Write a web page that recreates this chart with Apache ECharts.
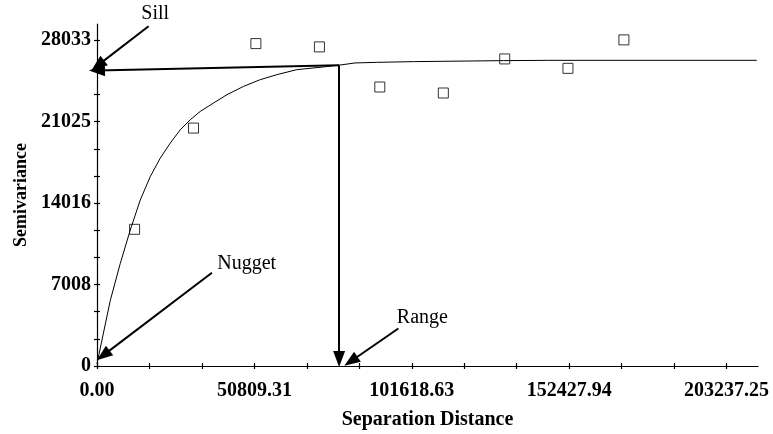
<!DOCTYPE html>
<html>
<head>
<meta charset="utf-8">
<script src="https://cdn.jsdelivr.net/npm/echarts@6/dist/echarts.min.js"></script>
<style>
  html, body { margin: 0; padding: 0; background: #fff; }
  #chart { width: 773px; height: 434px; }
</style>
</head>
<body>
<div id="chart"></div>
<script>
// axis ticks as printed on the plot
const xTicks = [0, 50809.31, 101618.63, 152427.94, 203237.25];
const yTicks = [0, 7008, 14016, 21025, 28033];
const xMax = 213399;
const yMax = 29435;

// experimental semivariance (open squares)
const lagDist = [12130, 31163, 51293, 71811, 91296, 111812, 131623, 152042, 170106];
const lagGamma = [11765, 20477, 27748, 27464, 24014, 23496, 26429, 25618, 28068];

// fitted model
const modelDist = [0, 4291, 7517, 10743, 13968, 17194, 20420, 23646, 26872, 30099, 33325, 37616,
    41938, 47293, 52679, 58068, 64520, 73101, 78165, 83327, 90328, 102135, 131170, 145687, 213000];
const modelGamma = [200, 5641, 8833, 11705, 14293, 16302, 17889, 19183, 20330, 21193, 21909, 22633,
    23349, 24065, 24643, 25074, 25506, 25739, 25894, 26083, 26135, 26196, 26282, 26308, 26308];

// annotation arrows [from, to] in data units
const arrows = [
    [[16646, 29240], [258, 25877]],     // Sill label
    [[78165, 25894], [0, 25440]],       // sill level
    [[78165, 25894], [78165, 604]],     // range drop
    [[97296, 3226], [81973, 405]],      // Range label
    [[37099, 8022], [2000, 914]]        // Nugget label
];
const notes = [
    ['Sill', 18808, 30300],
    ['Nugget', 48325, 8815],
    ['Range', 105039, 4175]
];

// major ticks with two minor ticks between
function withMinor(ticks) {
    let out = [];
    for (let i = 0; i < ticks.length; i++) {
        out.push(ticks[i]);
        if (i < ticks.length - 1) {
            const step = (ticks[i + 1] - ticks[i]) / 3;
            out.push(ticks[i] + step, ticks[i] + 2 * step);
        }
    }
    return out;
}

const font = 'Liberation Serif';
const chart = echarts.init(document.getElementById('chart'));

function makeX(inside) {
    return {
        type: 'value', min: 0, max: xMax, position: 'bottom',
        name: inside ? '' : 'Separation Distance',
        nameLocation: 'middle', nameGap: 44,
        nameTextStyle: { fontFamily: font, fontWeight: 'bold', fontSize: 20, color: '#000' },
        axisLine: { show: !inside, onZero: false, lineStyle: { color: '#000', width: 1.2 } },
        axisTick: { show: true, inside: inside, length: 3, customValues: withMinor(xTicks),
            lineStyle: { color: '#000', width: 1.2 } },
        axisLabel: { show: !inside, customValues: xTicks, margin: 15,
            fontFamily: font, fontWeight: 'bold', fontSize: 20, color: '#000',
            formatter: v => v.toFixed(2) },
        splitLine: { show: false }
    };
}

function makeY(inside) {
    return {
        type: 'value', min: 0, max: yMax, position: 'left',
        name: inside ? '' : 'Semivariance',
        nameLocation: 'middle', nameGap: 67,
        nameTextStyle: { fontFamily: font, fontWeight: 'bold', fontSize: 18, color: '#000' },
        axisLine: { show: !inside, onZero: false, lineStyle: { color: '#000', width: 1.2 } },
        axisTick: { show: true, inside: inside, length: 3, customValues: withMinor(yTicks),
            lineStyle: { color: '#000', width: 1.2 } },
        axisLabel: { show: !inside, customValues: yTicks, margin: 6,
            fontFamily: font, fontWeight: 'bold', fontSize: 20, color: '#000',
            formatter: v => String(Math.round(v)) },
        splitLine: { show: false }
    };
}

const option = {
    animation: false,
    backgroundColor: '#fff',
    grid: { left: 97, right: 15, top: 24, bottom: 68, outerBoundsMode: 'none' },
    xAxis: [makeX(false), makeX(true)],
    yAxis: [makeY(false), makeY(true)],
    series: [
        {
            type: 'line',
            data: modelDist.map((d, i) => [d, modelGamma[i]]),
            showSymbol: false,
            smooth: false,
            clip: false,
            lineStyle: { color: '#000', width: 1 },
            markLine: {
                silent: true,
                symbol: ['none', 'triangle'],
                lineStyle: { color: '#000', width: 2, type: 'solid' },
                label: { show: false },
                data: arrows.map(a => [
                    { coord: a[0], symbol: 'none' },
                    { coord: a[1], symbol: 'triangle', symbolSize: [12, 16] }
                ])
            }
        },
        {
            type: 'scatter',
            data: lagDist.map((d, i) => [d, lagGamma[i]]),
            symbol: 'rect',
            symbolSize: 10,
            itemStyle: { color: 'rgba(255,255,255,0)', borderColor: '#000', borderWidth: 1 }
        }
    ]
};

chart.setOption(option);

chart.setOption({
    graphic: notes.map(n => {
        const p = chart.convertToPixel({ seriesIndex: 0 }, [n[1], n[2]]);
        return {
            type: 'text', x: p[0], y: p[1],
            style: { text: n[0], font: '20px "Liberation Serif"', fill: '#000',
                align: 'center', verticalAlign: 'middle',
                textAlign: 'center', textVerticalAlign: 'middle' }
        };
    })
});
</script>
</body>
</html>
